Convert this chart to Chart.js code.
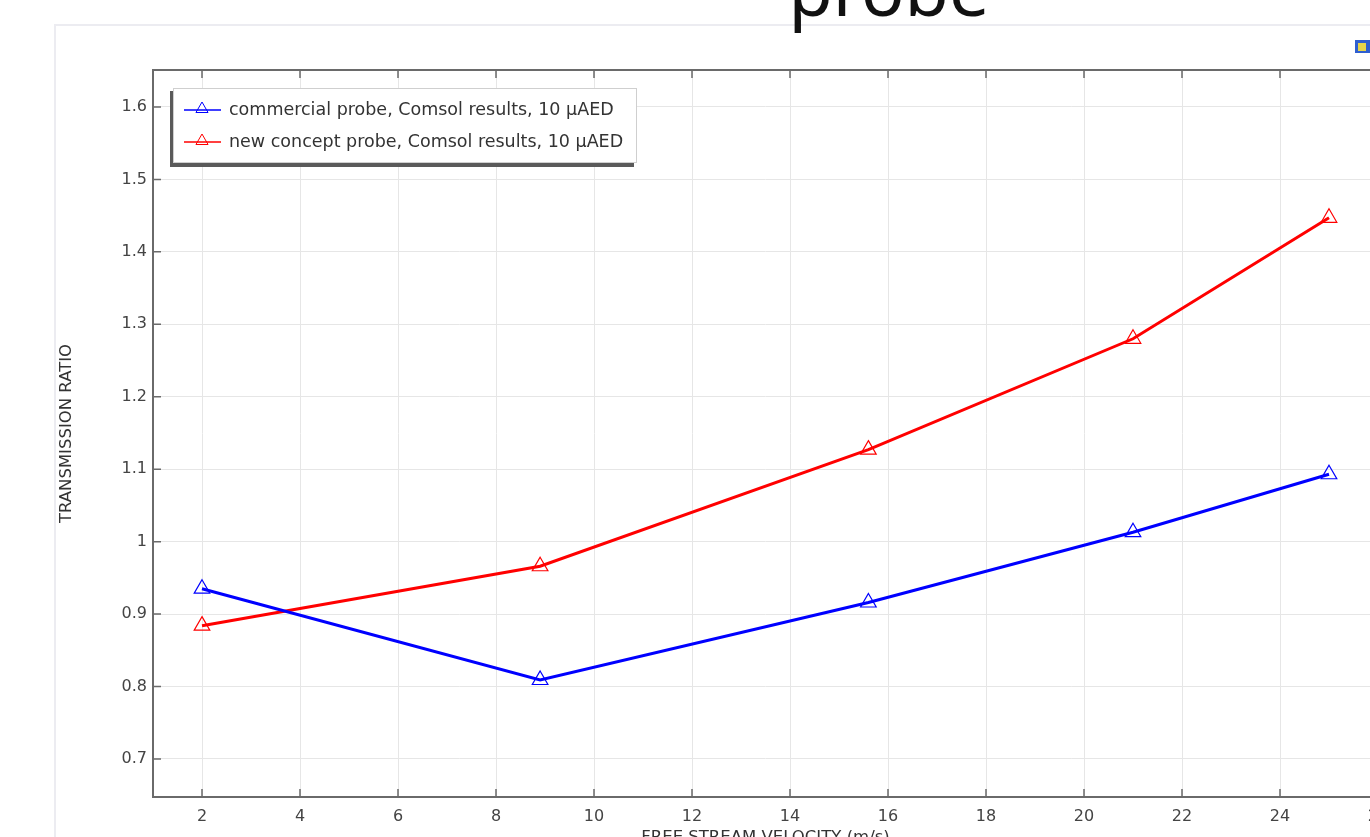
<!DOCTYPE html>
<html>
<head>
<meta charset="utf-8">
<script src="https://cdn.jsdelivr.net/npm/chart.js@4.4.1/dist/chart.umd.min.js"></script>
<style>
html,body{margin:0;padding:0;overflow:hidden;background:#fff;width:1370px;height:837px}
#probe{position:absolute;left:0;top:0}
</style>
</head>
<body>
<canvas id="probe" width="1392" height="860"></canvas>
<script>
var velocity = [2, 8.9, 15.6, 21, 25]
var commercial = [0.935, 0.809, 0.916, 1.013, 1.093]
var newConcept = [0.884, 0.966, 1.127, 1.280, 1.447]
var seriesNames = ['commercial probe, Comsol results, 10 µAED', 'new concept probe, Comsol results, 10 µAED']
var seriesColors = ['rgb(0,0,255)', 'rgb(255,0,0)']
var xRange = [1, 26]
var yRange = [0.6475, 1.651]
var titleText = 'probe'
var xTitle = 'FREE STREAM VELOCITY (m/s)'
var yTitle = 'TRANSMISSION RATIO'

function pts(ys){
    return velocity.map((v,i)=>({x:v, y:ys[i]}))
}

function drawTri(ctx, x, y, r){
    ctx.beginPath()
    ctx.moveTo(x, y - r)
    ctx.lineTo(x + r*0.866, y + r/2)
    ctx.lineTo(x - r*0.866, y + r/2)
    ctx.closePath()
    ctx.stroke()
}

// frame, inward ticks, title and the boxed legend
var deco = {
    id:'deco',
    beforeDraw(chart){
        let ctx = chart.ctx
        ctx.save()
        ctx.fillStyle = '#fff'
        ctx.fillRect(0,0,chart.width,chart.height)
        ctx.strokeStyle = '#ececf1'
        ctx.lineWidth = 2
        ctx.beginPath()
        ctx.moveTo(55, chart.height)
        ctx.lineTo(55, 25)
        ctx.lineTo(chart.width, 25)
        ctx.stroke()
        ctx.fillStyle = '#111'
        ctx.font = '72px "Noto Sans"'
        ctx.textAlign = 'center'
        ctx.textBaseline = 'alphabetic'
        ctx.fillText(titleText, 889, 16)
        // little toolbar icon top right
        ctx.fillStyle = '#2f5fd0'
        ctx.fillRect(1355, 40, 16, 13)
        ctx.fillStyle = '#e6d44a'
        ctx.fillRect(1358, 43, 8, 8)
        ctx.restore()
    },
    afterDraw(chart){
        let ctx = chart.ctx
        let a = chart.chartArea
        let xs = chart.scales.x, ys = chart.scales.y
        ctx.save()
        ctx.strokeStyle = '#6a6a6a'
        ctx.lineWidth = 2
        ctx.strokeRect(a.left, a.top, a.right-a.left, a.bottom-a.top)
        ctx.lineWidth = 1.5
        ctx.beginPath()
        xs.ticks.forEach(t=>{
            let px = xs.getPixelForValue(t.value)
            ctx.moveTo(px, a.bottom); ctx.lineTo(px, a.bottom-8)
            ctx.moveTo(px, a.top); ctx.lineTo(px, a.top+8)
        })
        ys.ticks.forEach(t=>{
            let py = ys.getPixelForValue(t.value)
            ctx.moveTo(a.left, py); ctx.lineTo(a.left+8, py)
            ctx.moveTo(a.right, py); ctx.lineTo(a.right-8, py)
        })
        ctx.stroke()

        // legend
        ctx.fillStyle = '#5a5a5a'
        ctx.fillRect(170, 91, 464, 76)
        ctx.fillStyle = '#fff'
        ctx.fillRect(173, 88, 464, 75)
        ctx.strokeStyle = '#cfcfcf'
        ctx.lineWidth = 1
        ctx.strokeRect(173.5, 88.5, 463, 74)
        ctx.font = '17.5px "DejaVu Sans"'
        ctx.textAlign = 'left'
        ctx.textBaseline = 'middle'
        chart.data.datasets.forEach((ds,i)=>{
            let y = 110 + i*32
            ctx.strokeStyle = ds.borderColor
            ctx.lineWidth = 1.5
            ctx.beginPath()
            ctx.moveTo(184, y); ctx.lineTo(221, y)
            ctx.stroke()
            ctx.lineWidth = 1
            drawTri(ctx, 202, y - 1, 7)
            ctx.fillStyle = '#333'
            ctx.fillText(ds.label, 229, y)
        })
        ctx.restore()
    }
}

let ctx = document.getElementById('probe').getContext('2d')
var chart = new Chart(ctx, {
    type:'line',
    plugins:[deco],
    data:{
        datasets:[{
            label: seriesNames[0],
            data: pts(commercial),
            borderColor: seriesColors[0],
            pointBorderColor: seriesColors[0]
        },
        {
            label: seriesNames[1],
            data: pts(newConcept),
            borderColor: seriesColors[1],
            pointBorderColor: seriesColors[1]
        }]
    },
    options:{
        responsive:false,
        animation:false,
        devicePixelRatio:1,
        layout:{ padding:{left:0, top:70, right:14, bottom:0} },
        elements:{
            line:{ borderWidth:3, tension:0, fill:false },
            point:{ pointStyle:'triangle', radius:9, borderWidth:1.2, backgroundColor:'rgba(0,0,0,0)' }
        },
        plugins:{
            legend:{ display:false },
            tooltip:{ enabled:false }
        },
        scales:{
            x:{
                type:'linear',
                min: xRange[0],
                max: xRange[1],
                grid:{ color:'#e6e6e6', drawTicks:false },
                border:{ display:false },
                ticks:{
                    stepSize:2,
                    includeBounds:false,
                    padding:10,
                    color:'#444',
                    font:{ family:'DejaVu Sans', size:16 }
                },
                title:{
                    display:true,
                    text:xTitle,
                    color:'#333',
                    font:{ family:'DejaVu Sans', size:16.5 },
                    padding:{ top:0, bottom:12 }
                },
                afterFit:(s)=>{ s.height = 63; s.paddingLeft = 0; s.paddingRight = 0 }
            },
            y:{
                min: yRange[0],
                max: yRange[1],
                grid:{ color:'#e6e6e6', drawTicks:false },
                border:{ display:false },
                ticks:{
                    stepSize:0.1,
                    includeBounds:false,
                    padding:6,
                    color:'#444',
                    font:{ family:'DejaVu Sans', size:16 },
                    callback:(v)=>String(Number(v.toFixed(2)))
                },
                title:{
                    display:true,
                    text:yTitle,
                    color:'#333',
                    font:{ family:'DejaVu Sans', size:16.5 },
                    padding:{ top:57, bottom:0 }
                },
                afterFit:(s)=>{ s.width = 153; s.paddingTop = 0; s.paddingBottom = 0 }
            }
        }
    }
})
</script>
</body>
</html>
